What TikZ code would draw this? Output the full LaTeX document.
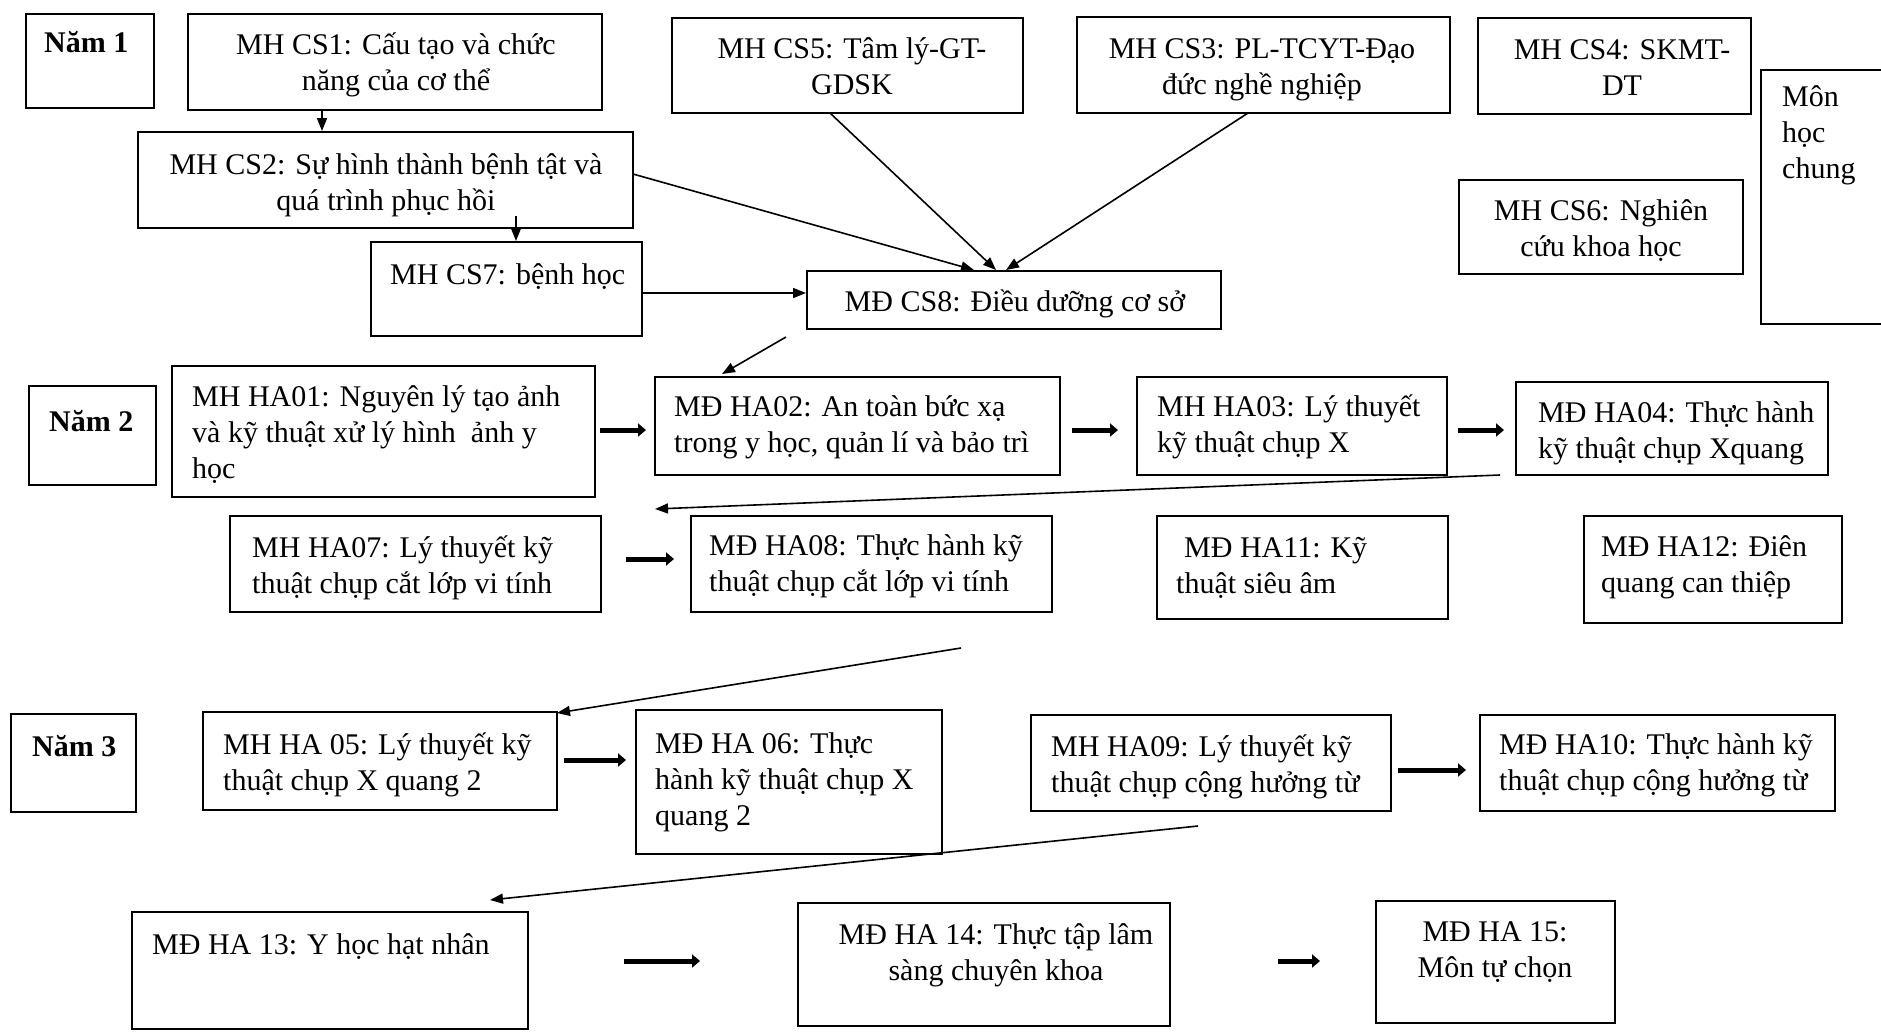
\documentclass[tikz,border=0pt]{standalone}
\usepackage{fontspec}
\setmainfont{Liberation Serif}
\usetikzlibrary{arrows.meta}
\newcommand\mybox[5]{\node[box, minimum width={(#4)-(#2)}, minimum height={(#5)-(#3)}] (#1) at ({((#2)+(#4))/2},{((#3)+(#5))/2}) {};}
\tikzset{
  box/.style={draw, line width=2pt, inner sep=0pt},
  txt/.style={inner sep=0pt, font=\fontsize{30}{36}\selectfont, align=left, anchor=base west},
  ctxt/.style={inner sep=0pt, font=\fontsize{30}{36}\selectfont, align=center, anchor=base},
  ytxt/.style={inner sep=0pt, font=\fontsize{30}{36}\selectfont\bfseries, anchor=base west},
  conn/.style={line width=1.6pt, -{Triangle[length=13pt,width=10pt]}},
  fat/.style={line width=5pt, -{Triangle[length=8pt,width=13pt]}},
}
\begin{document}
\begin{tikzpicture}[x=1pt,y=-1pt]
\useasboundingbox (0,0) rectangle (1881,1031);
\clip (0,0) rectangle (1881,1031);
% year labels
\mybox{y1}{26}{14}{154}{108}
\node[ytxt] (y1t) at (44,52) {Năm 1};
\mybox{y2}{29}{386}{156}{485}
\node[ytxt] (y2t) at (49,431) {Năm 2};
\mybox{y3}{11}{714}{136}{812}
\node[ytxt] (y3t) at (32,756) {Năm 3};
% year 1
\mybox{cs1}{188}{14}{602}{110}
\node[ctxt] (cs1t) at (396,90) {MH CS1: Cấu tạo và chức\\năng của cơ thể};
\mybox{cs5}{672}{18}{1023}{113}
\node[ctxt] (cs5t) at (852,94) {MH CS5: Tâm lý-GT-\\GDSK};
\mybox{cs3}{1077}{17}{1450}{113}
\node[ctxt] (cs3t) at (1262,94) {MH CS3: PL-TCYT-Đạo\\đức nghề nghiệp};
\mybox{cs4}{1478}{18}{1751}{114}
\node[ctxt] (cs4t) at (1622,95) {MH CS4: SKMT-\\DT};
\mybox{mhc}{1761}{70}{1900}{324}
\node[txt] (mhct) at (1782,178) {Môn\\học\\chung};
\mybox{cs6}{1459}{180}{1743}{274}
\node[ctxt] (cs6t) at (1601,256) {MH CS6: Nghiên\\cứu khoa học};
\mybox{cs2}{138}{132}{633}{228}
\node[ctxt] (cs2t) at (386,210) {MH CS2: Sự hình thành bệnh tật và\\quá trình phục hồi};
\mybox{cs7}{371}{242}{642}{336}
\node[txt] (cs7t) at (390,284) {MH CS7: bệnh học};
\mybox{cs8}{807}{271}{1221}{329}
\node[ctxt] (cs8t) at (1015,311) {MĐ CS8: Điều dưỡng cơ sở};
% year 2
\mybox{ha01}{172}{366}{595}{497}
\node[txt] (ha01t) at (192,478) {MH HA01: Nguyên lý tạo ảnh\\và kỹ thuật xử lý hình\ \ ảnh y\\học};
\mybox{ha02}{655}{377}{1060}{475}
\node[txt] (ha02t) at (674,452) {MĐ HA02: An toàn bức xạ\\trong y học, quản lí và bảo trì};
\mybox{ha03}{1137}{377}{1447}{475}
\node[txt] (ha03t) at (1157,452) {MH HA03: Lý thuyết\\kỹ thuật chụp X};
\mybox{ha04}{1516}{382}{1828}{475}
\node[txt] (ha04t) at (1538,458) {MĐ HA04: Thực hành\\kỹ thuật chụp Xquang};
\mybox{ha07}{230}{516}{601}{612}
\node[txt] (ha07t) at (252,593) {MH HA07: Lý thuyết kỹ\\thuật chụp cắt lớp vi tính};
\mybox{ha08}{691}{516}{1052}{612}
\node[txt] (ha08t) at (709,591) {MĐ HA08: Thực hành kỹ\\thuật chụp cắt lớp vi tính};
\mybox{ha11}{1157}{516}{1448}{619}
\node[txt] (ha11t) at (1176,593) {\hspace{8pt}MĐ HA11: Kỹ\\thuật siêu âm};
\mybox{ha12}{1584}{516}{1842}{623}
\node[txt] (ha12t) at (1601,592) {MĐ HA12: Điên\\quang can thiệp};
% year 3
\mybox{ha05}{203}{712}{557}{810}
\node[txt] (ha05t) at (223,790) {MH HA 05: Lý thuyết kỹ\\thuật chụp X quang 2};
\mybox{ha06}{636}{710}{942}{854}
\node[txt] (ha06t) at (655,825) {MĐ HA 06: Thực\\hành kỹ thuật chụp X\\quang 2};
\mybox{ha09}{1031}{715}{1391}{811}
\node[txt] (ha09t) at (1051,792) {MH HA09: Lý thuyết kỹ\\thuật chụp cộng hưởng từ};
\mybox{ha10}{1480}{715}{1835}{811}
\node[txt] (ha10t) at (1499,790) {MĐ HA10: Thực hành kỹ\\thuật chụp cộng hưởng từ};
\mybox{ha13}{132}{912}{528}{1029}
\node[txt] (ha13t) at (152,954) {MĐ HA 13: Y học hạt nhân};
\mybox{ha14}{798}{903}{1170}{1026}
\node[ctxt] (ha14t) at (996,980) {MĐ HA 14: Thực tập lâm\\sàng chuyên khoa};
\mybox{ha15}{1376}{901}{1615}{1023}
\node[ctxt] (ha15t) at (1495,977) {MĐ HA 15:\\Môn tự chọn};
% connector coordinates
\coordinate (a1) at (322,0);
\coordinate (a2s) at (516,216);
\coordinate (a3e) at (974,0);
\coordinate (a4s) at (830,113);
\coordinate (a4e) at (996,0);
\coordinate (a5s) at (1248,113);
\coordinate (a5e) at (1006,0);
\coordinate (a6s) at (786,337);
\coordinate (a6e) at (722,374);
\coordinate (a7s) at (1500,475);
\coordinate (a7e) at (655,509);
\coordinate (a8s) at (961,648);
\coordinate (a8e) at (557,713);
\coordinate (a9s) at (1198,826);
\coordinate (a9e) at (490,900);
% thin connectors
\draw[conn] (cs1.south -| a1) -- (cs2.north -| a1);
\draw[conn] (a2s) -- (cs7.north -| a2s);
\draw[conn] (633,174) -- (cs8.north -| a3e);
\draw[conn] (a4s) -- (cs8.north -| a4e);
\draw[conn] (a5s) -- (cs8.north -| a5e);
\draw[conn] (cs7.east |- 0,293) -- (cs8.west |- 0,293);
\draw[conn] (a6s) -- (a6e);
\draw[conn] (a7s) -- (a7e);
\draw[conn] (a8s) -- (a8e);
\draw[conn] (a9s) -- (a9e);
% thick arrows
\coordinate (b1s) at (600,430); \coordinate (b1e) at (646,430);
\coordinate (b2s) at (1072,430); \coordinate (b2e) at (1118,430);
\coordinate (b3s) at (1458,430); \coordinate (b3e) at (1504,430);
\coordinate (b4s) at (626,559); \coordinate (b4e) at (674,559);
\coordinate (b5s) at (564,760); \coordinate (b5e) at (626,760);
\coordinate (b6s) at (1398,770); \coordinate (b6e) at (1466,770);
\coordinate (b7s) at (624,961); \coordinate (b7e) at (700,961);
\coordinate (b8s) at (1278,961); \coordinate (b8e) at (1320,961);
\draw[fat] (b1s) -- (b1e);
\draw[fat] (b2s) -- (b2e);
\draw[fat] (b3s) -- (b3e);
\draw[fat] (b4s) -- (b4e);
\draw[fat] (b5s) -- (b5e);
\draw[fat] (b6s) -- (b6e);
\draw[fat] (b7s) -- (b7e);
\draw[fat] (b8s) -- (b8e);
\end{tikzpicture}
\end{document}
